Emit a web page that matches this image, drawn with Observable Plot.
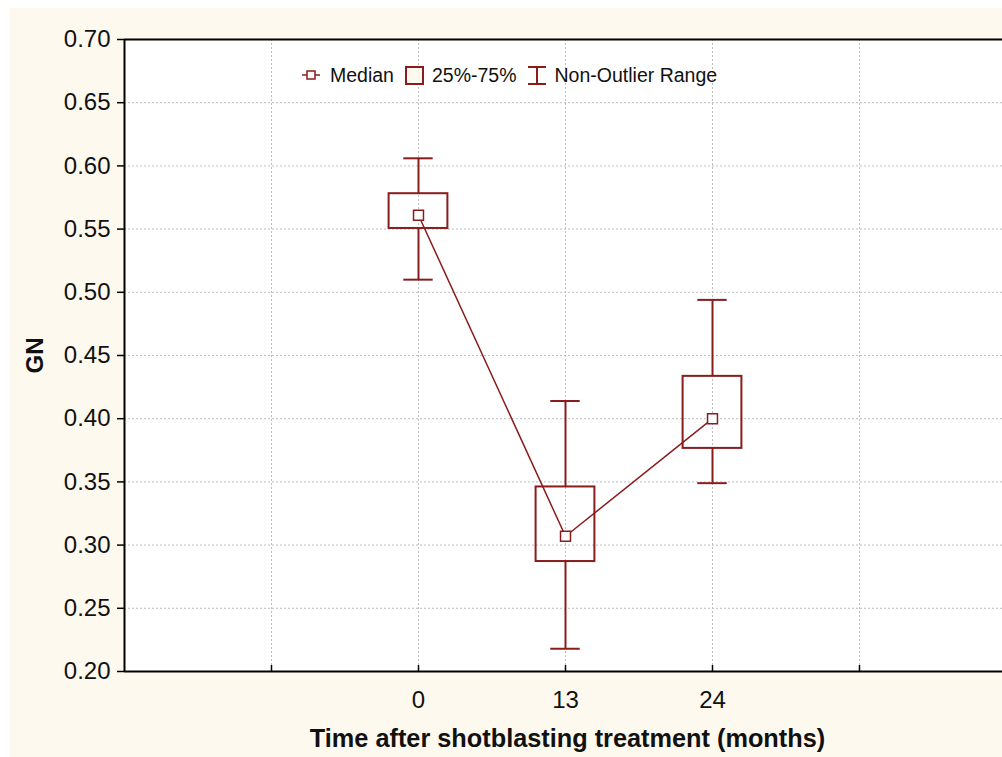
<!DOCTYPE html>
<html><head><meta charset="utf-8">
<script src="https://cdn.jsdelivr.net/npm/d3@7"></script>
<script src="https://cdn.jsdelivr.net/npm/@observablehq/plot@0.6"></script>
<style>
html,body{margin:0;padding:0;background:#fff;}
#wrap{position:relative;width:1002px;height:757px;overflow:hidden;}
#bg{position:absolute;left:10px;top:8px;right:0;bottom:0;background:#fef9ef;}
#chart{position:absolute;left:0;top:0;}
#legend{position:absolute;left:302px;top:63px;height:24px;font-family:Arial,"Liberation Sans",sans-serif;font-size:19.5px;display:flex;align-items:center;color:#111;white-space:nowrap;}
#legend svg{display:block;}
</style></head>
<body><div id="wrap"><div id="bg"></div><div id="chart"></div><div id="legend"></div></div>
<script>
// ---- data ----
const months = ["0", "13", "24"];
const medians = [0.561, 0.307, 0.400];
const q1s = [0.5505, 0.287, 0.3765];
const q3s = [0.578, 0.346, 0.4335];
const lows = [0.510, 0.218, 0.349];
const highs = [0.606, 0.414, 0.494];
const yTicks = [0.20, 0.25, 0.30, 0.35, 0.40, 0.45, 0.50, 0.55, 0.60, 0.65, 0.70];
const xSlots = [-2, -1, 0, 1, 2, 3, 4];
const yTitle = "GN";
const xTitle = "Time after shotblasting treatment (months)";
const legendItems = ["Median", "25%-75%", "Non-Outlier Range"];

const red = "#8a1c1c";
const cream = "#fef9ef";
const halfBox = 0.2, halfCap = 0.1;

const data = months.map((m, i) => ({i, m, median: medians[i], q1: q1s[i], q3: q3s[i], lo: lows[i], hi: highs[i]}));

const chart = Plot.plot({
  width: 1002, height: 757,
  marginLeft: 124, marginTop: 39, marginBottom: 86, marginRight: 0,
  style: {background: "transparent", fontFamily: "Arial, 'Liberation Sans', sans-serif", color: "#111"},
  x: {type: "linear", domain: [-2, 4], range: [124, 1006]},
  y: {domain: [0.20, 0.70]},
  marks: [
    Plot.frame({fill: "white", stroke: null}),
    Plot.gridY(yTicks.slice(1, -1), {stroke: "#bdbdbd", strokeOpacity: 1, strokeDasharray: "2,2"}),
    Plot.gridX(xSlots.slice(1), {stroke: "#bdbdbd", strokeOpacity: 1, strokeDasharray: "2,2"}),
    Plot.axisY(yTicks, {tickFormat: d3.format(".2f"), tickSize: 7, tickPadding: 7, fontSize: 24, label: null, stroke: "black", strokeWidth: 1.5}),
    Plot.axisX(xSlots, {tickSize: 0, tickPadding: 19, fontSize: 24, label: null, tickFormat: s => months[s] ?? ""}),
    Plot.ruleX(xSlots.slice(1), {insetTop: 626, stroke: "black", strokeWidth: 1.5}),
    Plot.ruleX([-2], {stroke: "black", strokeWidth: 2}),
    Plot.ruleY([0.20, 0.70], {stroke: "black", strokeWidth: 2}),
    // whiskers
    Plot.ruleX(data, {x: "i", y1: "lo", y2: "q1", stroke: red, strokeWidth: 2}),
    Plot.ruleX(data, {x: "i", y1: "q3", y2: "hi", stroke: red, strokeWidth: 2}),
    Plot.ruleY(data, {y: "lo", x1: d => d.i - halfCap, x2: d => d.i + halfCap, stroke: red, strokeWidth: 2}),
    Plot.ruleY(data, {y: "hi", x1: d => d.i - halfCap, x2: d => d.i + halfCap, stroke: red, strokeWidth: 2}),
    // boxes
    Plot.rect(data, {x1: d => d.i - halfBox, x2: d => d.i + halfBox, y1: "q1", y2: "q3", fill: "none", stroke: red, strokeWidth: 2}),
    // median line + markers
    Plot.line(data, {x: "i", y: "median", stroke: red, strokeWidth: 1.5}),
    Plot.dot(data, {x: "i", y: "median", symbol: "square", r: 5.6, fill: "white", stroke: red, strokeWidth: 1.5}),
    // titles
    Plot.text([yTitle], {text: d => d, frameAnchor: "left", textAnchor: "middle", lineAnchor: "middle", rotate: -90, dx: -89, fontSize: 24, fontWeight: "bold"}),
    Plot.text([xTitle], {text: d => d, frameAnchor: "bottom", textAnchor: "middle", lineAnchor: "middle", dy: 67, dx: 4, fontSize: 25.3, fontWeight: "bold"})
  ]
});
document.getElementById("chart").appendChild(chart);

// legend
const leg = document.getElementById("legend");
const icons = [
  `<svg width="18" height="12"><line x1="0" y1="6" x2="18" y2="6" stroke="${red}" stroke-width="1.5"/><rect x="5" y="2" width="8" height="8" fill="white" stroke="${red}" stroke-width="1.5"/></svg>`,
  `<svg width="19" height="19"><rect x="1" y="1" width="17" height="17" fill="${cream}" stroke="${red}" stroke-width="2"/></svg>`,
  `<svg width="20" height="19"><line x1="10" y1="1" x2="10" y2="18" stroke="${red}" stroke-width="2"/><line x1="1" y1="1" x2="19" y2="1" stroke="${red}" stroke-width="2"/><line x1="1" y1="18" x2="19" y2="18" stroke="${red}" stroke-width="2"/></svg>`
];
const gapsBefore = [0, 11, 10];
legendItems.forEach((t, k) => {
  const ic = document.createElement("span");
  ic.style.marginLeft = gapsBefore[k] + "px";
  ic.innerHTML = icons[k];
  leg.appendChild(ic);
  const tx = document.createElement("span");
  tx.textContent = t;
  tx.style.marginLeft = (k === 0 ? 10 : 8) + "px";
  leg.appendChild(tx);
});
</script>
</body></html>
